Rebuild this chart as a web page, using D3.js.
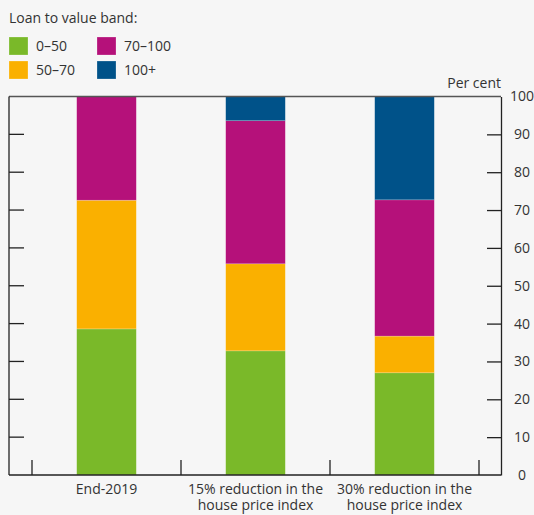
<!DOCTYPE html>
<html><head><meta charset="utf-8">
<script src="https://cdn.jsdelivr.net/npm/d3@7"></script>
<style>
html,body{margin:0;padding:0;background:#f6f6f6;}
svg{display:block;font-family:"Open Sans",sans-serif;}
</style></head>
<body>
<svg id="c" width="534" height="515"></svg>
<script>
const categories = [["End-2019"], ["15% reduction in the", "house price index"], ["30% reduction in the", "house price index"]];
const bands = ["0–50", "50–70", "70–100", "100+"];
const band0_50 = [38.6, 32.8, 27.0];
const band50_70 = [34.0, 23.0, 9.7];
const band70_100 = [27.4, 37.8, 36.0];
const band100plus = [0.0, 6.4, 27.3];
const yTicks = [0, 10, 20, 30, 40, 50, 60, 70, 80, 90, 100];
const colors = ["#7ab929", "#fab000", "#b5117a", "#005289"];

const svg = d3.select("#c");
const textCol = "#333";
const L = 9, R = 501, T = 96.5, B = 475;

const rows = categories.map((c, i) => ({
  key: i, "0–50": band0_50[i], "50–70": band50_70[i], "70–100": band70_100[i], "100+": band100plus[i]
}));

const x = d3.scaleBand().domain(d3.range(categories.length)).range([32, 479]).paddingInner(0.6).paddingOuter(0.3);
const xb = d3.scaleBand().domain(d3.range(categories.length)).range([32, 479]);
const y = d3.scaleLinear().domain([0, 100]).range([B, T]);

const stack = d3.stack().keys(bands)(rows);

svg.append("g").selectAll("g").data(stack).join("g")
  .attr("fill", (d, i) => colors[i])
  .selectAll("rect").data(d => d).join("rect")
  .attr("x", (d, i) => x(i))
  .attr("width", x.bandwidth())
  .attr("y", d => y(d[1]))
  .attr("height", d => Math.max(0, y(d[0]) - y(d[1])))
  .attr("stroke", "rgba(255,255,255,0.35)")
  .attr("stroke-width", 0.6);

// frame
const frame = svg.append("g").attr("stroke", "#222").attr("stroke-width", 1.3).attr("fill", "none");
frame.append("line").attr("x1", L).attr("x2", R).attr("y1", T).attr("y2", T).attr("stroke", "#555");
frame.append("line").attr("x1", L).attr("x2", L).attr("y1", T).attr("y2", B);
frame.append("line").attr("x1", L).attr("x2", R).attr("y1", B).attr("y2", B);

// right axis
const yAxis = d3.axisRight(y).tickValues(yTicks).tickSize(0).tickPadding(0);
const ga = svg.append("g").attr("transform", `translate(${R},0)`).call(yAxis);
ga.select(".domain").attr("stroke", "#222").attr("stroke-width", 1.3);
ga.selectAll(".tick text").attr("x", 21).attr("text-anchor", "middle")
  .attr("font-size", 14).attr("fill", textCol).attr("font-family", "Open Sans, sans-serif");
ga.selectAll(".tick").filter(d => d > 0 && d < 100).append("line")
  .attr("x1", -14).attr("x2", 0).attr("stroke", "#222").attr("stroke-width", 1.3);

// left ticks
svg.append("g").selectAll("line").data(yTicks.filter(d => d > 0 && d < 100)).join("line")
  .attr("x1", L).attr("x2", L + 15).attr("y1", d => y(d)).attr("y2", d => y(d))
  .attr("stroke", "#222").attr("stroke-width", 1.3);

// bottom category separators
const seps = [0, 1, 2].map(i => xb(i)).concat([xb(2) + xb.bandwidth()]);
svg.append("g").selectAll("line").data(seps).join("line")
  .attr("x1", d => d).attr("x2", d => d).attr("y1", B - 15).attr("y2", B)
  .attr("stroke", "#222").attr("stroke-width", 1.3);

// category labels (one text element per line)
const cl = svg.append("g").attr("font-size", 14).attr("fill", textCol).attr("text-anchor", "middle");
categories.forEach((lines, i) => {
  lines.forEach((s, j) => cl.append("text")
    .attr("x", xb(i) + xb.bandwidth() / 2).attr("y", 494 + j * 16).text(s));
});

// per cent
svg.append("text").attr("x", R).attr("y", 88).attr("text-anchor", "end")
  .attr("font-size", 14).attr("fill", textCol).text("Per cent");

// legend
svg.append("text").attr("x", 9).attr("y", 23).attr("font-size", 14).attr("fill", textCol).text("Loan to value band:");
const legPos = [[9, 37], [9, 61], [97, 37], [97, 61]];
const lg = svg.append("g").selectAll("g").data(bands).join("g")
  .attr("transform", (d, i) => `translate(${legPos[i][0]},${legPos[i][1]})`);
lg.append("rect").attr("width", 19).attr("height", 18).attr("fill", (d, i) => colors[i])
  .attr("stroke", "rgba(255,255,255,0.4)").attr("stroke-width", 0.6);
lg.append("text").attr("x", 27).attr("y", 14).attr("font-size", 14).attr("fill", textCol).text(d => d);
</script>
</body></html>
